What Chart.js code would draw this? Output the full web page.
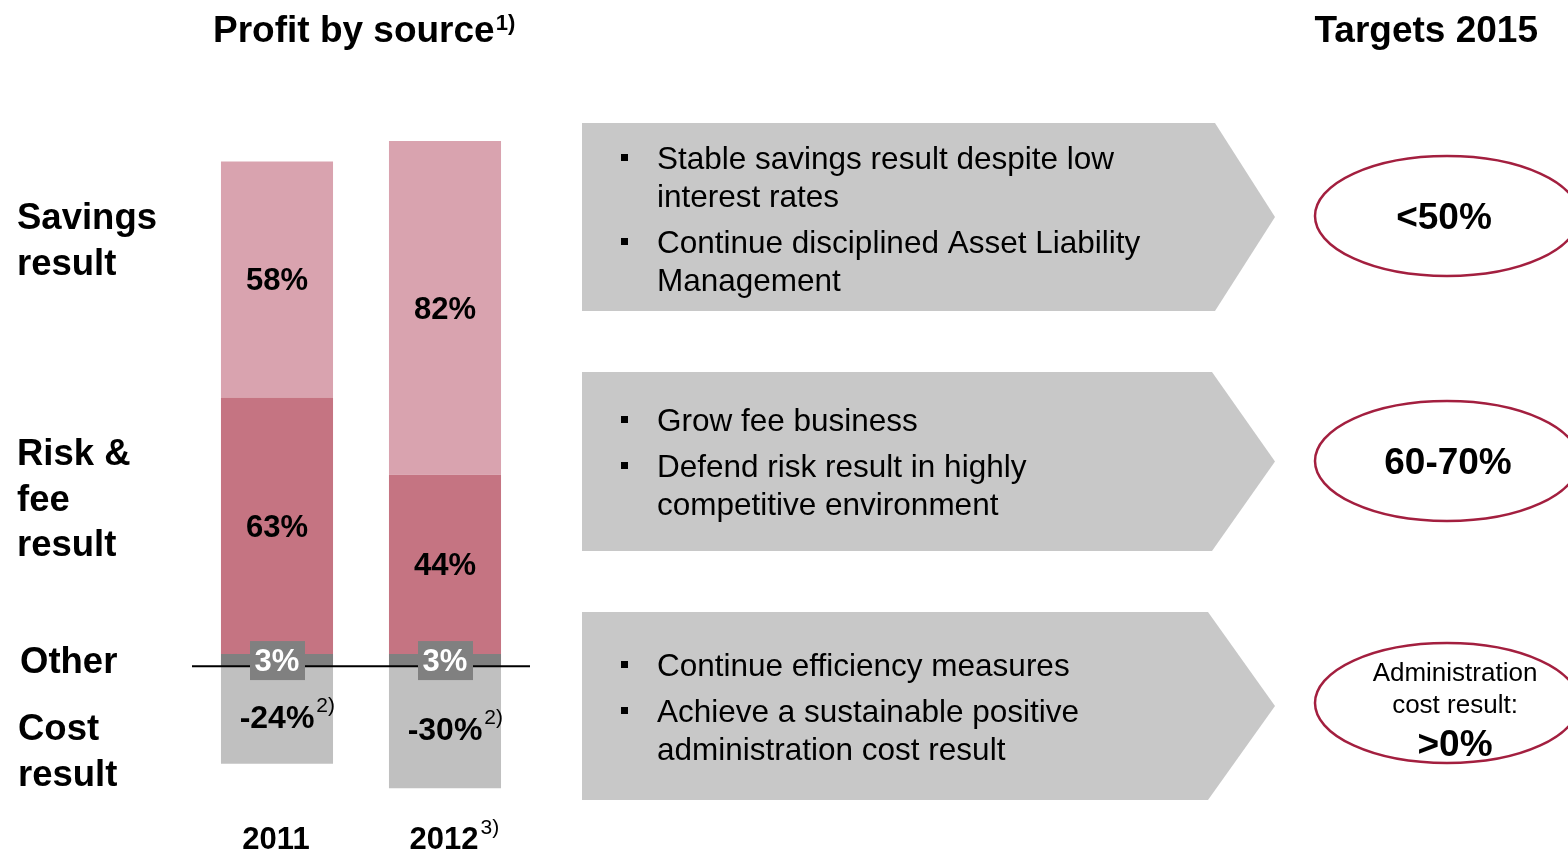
<!DOCTYPE html>
<html>
<head>
<meta charset="utf-8">
<script src="https://cdn.jsdelivr.net/npm/chart.js@4"></script>
<style>
  body { margin: 0; background: #ffffff; }
  #wrap { width: 1568px; height: 850px; }
</style>
</head>
<body>
<div id="wrap"><canvas id="canvas" width="1568" height="850"></canvas></div>
<script>
// profit split per year, in % of total
const years = ["2011", "2012"];
const yearNotes = ["", "3)"];
const other = [3, 3];
const riskFee = [63, 44];
const savings = [58, 82];
const costResult = [-24, -30];
const costNotes = ["2)", "2)"];

const rowLabels = [
  { lines: ["Savings", "result"], x: 17, y: 229 },
  { lines: ["Risk &", "fee", "result"], x: 17, y: 465 },
  { lines: ["Other"], x: 20, y: 673 },
  { lines: ["Cost", "result"], x: 18, y: 740 },
];

const panels = [
  { top: 123, bottom: 311, body: 1215, bullets: [
    ["Stable savings result despite low", "interest rates"],
    ["Continue disciplined Asset Liability", "Management"],
  ], first: 169 },
  { top: 372, bottom: 551, body: 1212, bullets: [
    ["Grow fee business"],
    ["Defend risk result in highly", "competitive environment"],
  ], first: 431 },
  { top: 612, bottom: 800, body: 1208, bullets: [
    ["Continue efficiency measures"],
    ["Achieve a sustainable positive", "administration cost result"],
  ], first: 676 },
];

const targets = [
  { cy: 216, cx: 1444, text: ["<50%"] },
  { cy: 461, cx: 1448, text: ["60-70%"] },
  { cy: 703, cx: 1455, text: ["Administration", "cost result:", ">0%"] },
];

const FAMILY = '"Liberation Sans", Arial, Helvetica, sans-serif';
const font = (size, bold) => (bold ? "bold " : "") + size + "px " + FAMILY;

const text = (ctx, str, x, y, f, color, align) => {
  ctx.font = f;
  ctx.fillStyle = color || "#000";
  ctx.textAlign = align || "left";
  ctx.textBaseline = "alphabetic";
  ctx.fillText(str, x, y);
  return ctx.measureText(str).width;
};

const decor = {
  id: "decor",
  afterDatasetsDraw(chart) {
    const ctx = chart.ctx;
    const y0 = chart.scales.y.getPixelForValue(0);
    const area = chart.chartArea;

    // zero line across both bars
    ctx.save();
    ctx.strokeStyle = "#000";
    ctx.lineWidth = 2;
    ctx.beginPath();
    ctx.moveTo(area.left - 1, y0);
    ctx.lineTo(area.right + 1, y0);
    ctx.stroke();

    chart.data.datasets.forEach((ds, di) => {
      chart.getDatasetMeta(di).data.forEach((bar, i) => {
        const v = ds.data[i];
        const cy = (bar.y + bar.base) / 2;
        const label = v + "%";
        if (ds.kind === "other") {
          ctx.fillStyle = "#808080";
          ctx.fillRect(bar.x - 27, cy - 19, 55, 39);
          text(ctx, label, bar.x, cy + 11, font(31, true), "#fff", "center");
        } else if (ds.kind === "cost") {
          const w = text(ctx, label, bar.x, cy + 13, font(32, true), "#000", "center");
          text(ctx, costNotes[i], bar.x + w / 2 + 2, cy - 3, font(21, false), "#000", "left");
        } else {
          text(ctx, label, bar.x, cy + 11, font(31, true), "#000", "center");
        }
      });
    });

    // year labels under the bars
    chart.getDatasetMeta(0).data.forEach((bar, i) => {
      const w = text(ctx, years[i], bar.x - 1, 849, font(31, true), "#000", "center");
      if (yearNotes[i]) text(ctx, yearNotes[i], bar.x + w / 2 + 1, 834, font(21, false), "#000", "left");
    });
    ctx.restore();
  },
  afterDraw(chart) {
    const ctx = chart.ctx;
    ctx.save();

    const tw = text(ctx, "Profit by source", 213, 42, font(37, true));
    text(ctx, "1)", 213 + tw + 1, 30, font(22, true));
    text(ctx, "Targets 2015", 1538, 42, font(37, true), "#000", "right");

    rowLabels.forEach((r) => {
      r.lines.forEach((l, k) => text(ctx, l, r.x, r.y + k * 45.5, font(36.5, true)));
    });

    // arrow shaped panels with bullet points
    panels.forEach((p) => {
      const mid = (p.top + p.bottom) / 2;
      ctx.fillStyle = "#c8c8c8";
      ctx.beginPath();
      ctx.moveTo(582, p.top);
      ctx.lineTo(p.body, p.top);
      ctx.lineTo(1275, mid);
      ctx.lineTo(p.body, p.bottom);
      ctx.lineTo(582, p.bottom);
      ctx.closePath();
      ctx.fill();

      let y = p.first;
      p.bullets.forEach((b) => {
        ctx.fillStyle = "#000";
        ctx.fillRect(621, y - 15, 7, 7);
        b.forEach((l) => {
          text(ctx, l, 657, y, font(31.5, false));
          y += 38;
        });
        y += 8;
      });
    });

    // target ellipses on the right
    targets.forEach((t) => {
      ctx.strokeStyle = "#a31f3f";
      ctx.lineWidth = 2.5;
      ctx.beginPath();
      ctx.ellipse(1447, t.cy, 132, 60, 0, 0, Math.PI * 2);
      ctx.stroke();
      if (t.text.length === 1) {
        text(ctx, t.text[0], t.cx, t.cy + 13, font(37, true), "#000", "center");
      } else {
        text(ctx, t.text[0], t.cx, t.cy - 22, font(26, false), "#000", "center");
        text(ctx, t.text[1], t.cx, t.cy + 10, font(26, false), "#000", "center");
        text(ctx, t.text[2], t.cx, t.cy + 53, font(37, true), "#000", "center");
      }
    });
    ctx.restore();
  },
};

const canvas = document.getElementById("canvas");
const chart = new Chart(canvas, {
  type: "bar",
  data: {
    labels: years,
    datasets: [
      { label: "Other", kind: "other", data: other, backgroundColor: "#808080" },
      { label: "Risk & fee result", kind: "risk", data: riskFee, backgroundColor: "#c57482" },
      { label: "Savings result", kind: "savings", data: savings, backgroundColor: "#d9a3af" },
      { label: "Cost result", kind: "cost", data: costResult, backgroundColor: "#c0c0c0" },
    ],
  },
  options: {
    responsive: false,
    animation: false,
    devicePixelRatio: 1,
    layout: { padding: { left: 193, right: 1039, top: 137, bottom: 21 } },
    datasets: { bar: { barPercentage: 0.667, categoryPercentage: 1, borderWidth: 0 } },
    scales: {
      x: { display: false, stacked: true },
      y: { display: false, stacked: true, min: -40, max: 130 },
    },
    plugins: { legend: { display: false }, tooltip: { enabled: false } },
  },
  plugins: [decor],
});
</script>
</body>
</html>
